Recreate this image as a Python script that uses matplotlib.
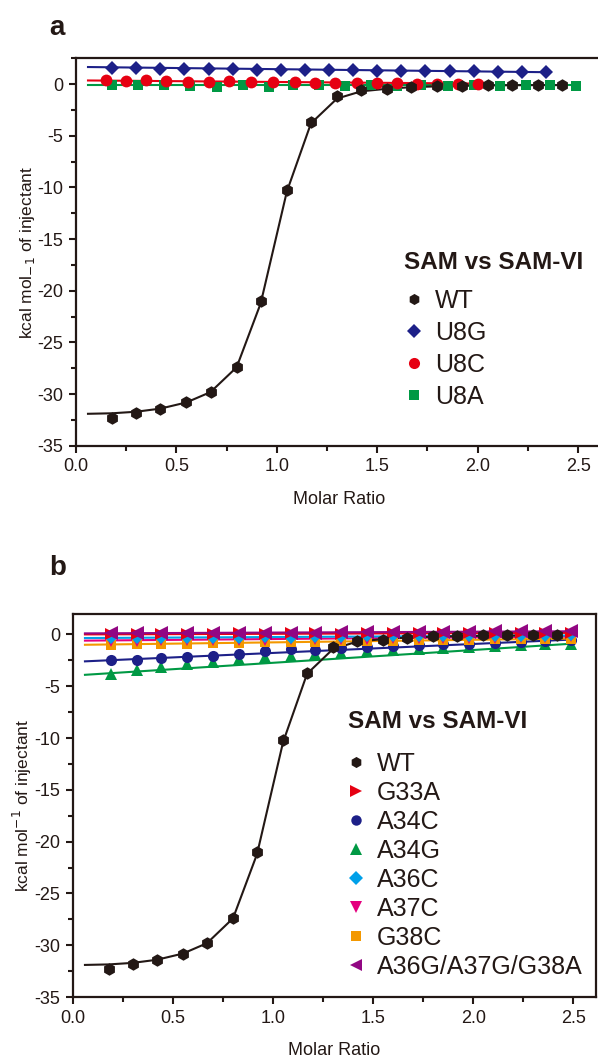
import matplotlib.pyplot as plt
from matplotlib.lines import Line2D
from matplotlib.ticker import MultipleLocator

plt.rcParams["font.family"] = ["Liberation Sans", "DejaVu Sans"]
plt.rcParams["axes.unicode_minus"] = False

# ---- panel a data ----
wt_x = [0.18, 0.30, 0.42, 0.55, 0.67, 0.80, 0.92, 1.05, 1.17, 1.30,
        1.42, 1.55, 1.67, 1.80, 1.92, 2.05, 2.17, 2.30, 2.42]
wt_y = [-32.3, -31.8, -31.4, -30.8, -29.8, -27.4, -21.0, -10.2, -3.7, -1.2,
        -0.6, -0.5, -0.3, -0.2, -0.15, -0.1, -0.1, -0.1, -0.1]
wt_fit_x = [0.06, 0.18, 0.30, 0.42, 0.55, 0.67, 0.80, 0.92, 1.05, 1.17, 1.30,
            1.42, 1.55, 1.67, 1.80, 1.92, 2.05, 2.17, 2.30, 2.42]
wt_fit_y = [-31.9, -31.85, -31.7, -31.4, -30.8, -29.8, -27.4, -21.2, -10.4, -3.8, -1.4,
            -0.7, -0.45, -0.3, -0.22, -0.17, -0.13, -0.11, -0.1, -0.1]

u8g_x = [0.18, 0.30, 0.42, 0.54, 0.66, 0.78, 0.90, 1.02, 1.14, 1.26,
         1.38, 1.50, 1.62, 1.74, 1.86, 1.98, 2.10, 2.22, 2.34]
u8g_y = [1.55, 1.55, 1.5, 1.5, 1.45, 1.45, 1.4, 1.4, 1.4, 1.35,
         1.35, 1.3, 1.3, 1.3, 1.25, 1.25, 1.2, 1.2, 1.15]
u8g_fit_x = [0.06, 2.34]
u8g_fit_y = [1.65, 1.15]

u8c_x = [0.15, 0.25, 0.35, 0.45, 0.56, 0.66, 0.76, 0.87, 0.98, 1.09,
         1.19, 1.29, 1.40, 1.50, 1.60, 1.70, 1.80, 1.90, 2.00]
u8c_y = [0.4, 0.3, 0.35, 0.3, 0.25, 0.25, 0.3, 0.25, 0.2, 0.2,
         0.15, 0.15, 0.1, 0.1, 0.1, 0.05, 0.05, 0.0, 0.0]
u8c_fit_x = [0.06, 2.00]
u8c_fit_y = [0.35, 0.05]

u8a_x = [0.18, 0.31, 0.44, 0.57, 0.70, 0.83, 0.96, 1.08, 1.21, 1.34,
         1.47, 1.60, 1.72, 1.85, 1.98, 2.11, 2.24, 2.36, 2.49]
u8a_y = [-0.1, -0.1, -0.05, -0.15, -0.25, -0.1, -0.3, -0.05, -0.1, -0.2,
         -0.1, -0.15, -0.1, -0.15, -0.1, -0.15, -0.1, -0.1, -0.15]
u8a_fit_x = [0.06, 2.49]
u8a_fit_y = [-0.1, -0.1]

# ---- panel b data ----
mut_x = [0.19, 0.32, 0.44, 0.57, 0.70, 0.83, 0.96, 1.09, 1.21, 1.34,
         1.47, 1.60, 1.73, 1.85, 1.98, 2.11, 2.24, 2.36, 2.49]
g33a_y = [0.0, 0.0, 0.05, 0.0, 0.05, 0.1, 0.05, 0.1, 0.1, 0.05,
          0.1, 0.1, 0.1, 0.15, 0.1, 0.15, 0.1, 0.15, 0.15]
a34c_y = [-2.5, -2.5, -2.3, -2.2, -2.1, -1.9, -1.6, -1.4, -1.5, -1.3,
          -1.2, -1.1, -1.0, -0.9, -0.9, -0.8, -0.7, -0.6, -0.5]
a34g_y = [-3.8, -3.4, -3.1, -2.9, -2.7, -2.4, -2.2, -2.1, -1.9, -1.8,
          -1.6, -1.5, -1.4, -1.3, -1.2, -1.1, -1.0, -0.95, -0.9]
a36c_y = [-0.3, -0.3, -0.3, -0.3, -0.3, -0.3, -0.25, -0.3, -0.25, -0.25,
          -0.2, -0.2, -0.2, -0.2, -0.15, -0.15, -0.15, -0.15, -0.1]
a37c_y = [-0.6, -0.6, -0.55, -0.55, -0.5, -0.5, -0.5, -0.45, -0.45, -0.4,
          -0.4, -0.35, -0.35, -0.3, -0.3, -0.3, -0.25, -0.25, -0.2]
g38c_y = [-1.0, -0.95, -0.9, -0.9, -0.85, -0.8, -0.75, -0.7, -0.7, -0.65,
          -0.6, -0.6, -0.55, -0.5, -0.5, -0.45, -0.45, -0.4, -0.4]
triple_y = [0.1, 0.15, 0.1, 0.15, 0.1, 0.1, 0.15, 0.15, 0.15, 0.2,
            0.2, 0.2, 0.25, 0.25, 0.25, 0.3, 0.3, 0.3, 0.3]
g33a_fit = [0.0, 0.15]
a34c_fit = [-2.6, -0.5]
a34g_fit = [-3.9, -0.9]
a36c_fit = [-0.35, -0.1]
a37c_fit = [-0.6, -0.2]
g38c_fit = [-1.0, -0.4]
triple_fit = [0.1, 0.3]
fit_x_b = [0.06, 2.49]

BLACK = "#231815"
NAVY = "#1d2088"
RED = "#e60012"
GREEN = "#009944"
CYAN = "#00a0e9"
MAGENTA = "#e4007f"
ORANGE = "#f39800"
PURPLE = "#920783"

fig = plt.figure(figsize=(5.98, 10.59), dpi=100)


def style_axes(ax, ylab):
    ax.set_ylim(-35, 2.5)
    ax.xaxis.set_major_locator(MultipleLocator(0.5))
    ax.xaxis.set_minor_locator(MultipleLocator(0.25))
    ax.yaxis.set_major_locator(MultipleLocator(5))
    ax.yaxis.set_minor_locator(MultipleLocator(2.5))
    ax.xaxis.set_major_formatter(plt.FormatStrFormatter("%.1f"))
    ax.tick_params(which="major", direction="out", length=5, width=1.5,
                   labelsize=13, colors=BLACK, labelcolor=BLACK, pad=4)
    ax.tick_params(which="minor", direction="out", length=3.5, width=1.5, colors=BLACK)
    ax.tick_params(top=False, right=False, which="both")
    for s in ax.spines.values():
        s.set_linewidth(1.6)
        s.set_color(BLACK)
    ax.set_xlabel("Molar Ratio", fontsize=13, color=BLACK, labelpad=11)
    ax.set_ylabel(ylab, fontsize=12.5, color=BLACK, labelpad=0)


def series(ax, x, y, fx, fy, color, marker, ms, label, lms):
    ax.plot(fx, fy, color=color, lw=1.5, zorder=2)
    ax.plot(x, y, linestyle="none", marker=marker, color=color, ms=ms,
            markeredgewidth=0, zorder=3)
    return Line2D([], [], linestyle="none", marker=marker, color=color,
                  ms=lms, markeredgewidth=0, label=label)


def legend(ax, handles, title_xy, anchor, spacing, hlen, hpad):
    ax.text(title_xy[0], title_xy[1], "SAM vs SAM-VI", transform=ax.transAxes,
            fontsize=17.5, fontweight="bold", color=BLACK, ha="left", va="center")
    leg = ax.legend(handles=handles, loc="upper left", bbox_to_anchor=anchor,
                    frameon=False, fontsize=18, labelspacing=spacing,
                    borderpad=0, borderaxespad=0,
                    handletextpad=hpad, handlelength=hlen)
    for t in leg.get_texts():
        t.set_color(BLACK)
    return leg


# ---- panel a ----
ax1 = fig.add_axes([0.127, 0.579, 0.880, 0.366])
ax1.set_xlim(0, 2.62)
style_axes(ax1, r"kcal mol$_{-1}$ of injectant")
h_u8a = series(ax1, u8a_x, u8a_y, u8a_fit_x, u8a_fit_y, GREEN, "s", 7.5, "U8A", 7)
h_u8c = series(ax1, u8c_x, u8c_y, u8c_fit_x, u8c_fit_y, RED, "o", 8.5, "U8C", 8)
h_u8g = series(ax1, u8g_x, u8g_y, u8g_fit_x, u8g_fit_y, NAVY, "D", 7, "U8G", 7)
h_wt = series(ax1, wt_x, wt_y, wt_fit_x, wt_fit_y, BLACK, "h", 9, "WT", 8)
legend(ax1, [h_wt, h_u8g, h_u8c, h_u8a], (0.623, 0.474), (0.623, 0.405),
       0.32, 0.85, 0.4)
fig.text(0.082, 0.967, "a", fontsize=20, fontweight="bold", color=BLACK,
         ha="left", va="baseline")

# ---- panel b ----
ax2 = fig.add_axes([0.122, 0.0585, 0.875, 0.362])
ax2.set_xlim(0, 2.615)
style_axes(ax2, r"kcal mol$^{-1}$ of injectant")
ax2.set_ylim(-35, 2)
hb_a34g = series(ax2, mut_x, a34g_y, fit_x_b, a34g_fit, GREEN, "^", 9, "A34G", 8.5)
hb_a34c = series(ax2, mut_x, a34c_y, fit_x_b, a34c_fit, NAVY, "o", 8, "A34C", 7.5)
hb_g38c = series(ax2, mut_x, g38c_y, fit_x_b, g38c_fit, ORANGE, "s", 7, "G38C", 7)
hb_a37c = series(ax2, mut_x, a37c_y, fit_x_b, a37c_fit, MAGENTA, "v", 9, "A37C", 8.5)
hb_a36c = series(ax2, mut_x, a36c_y, fit_x_b, a36c_fit, CYAN, "D", 6.5, "A36C", 7.5)
hb_g33a = series(ax2, mut_x, g33a_y, fit_x_b, g33a_fit, RED, ">", 9, "G33A", 9)
hb_trip = series(ax2, mut_x, triple_y, fit_x_b, triple_fit, PURPLE, "<", 10,
                 "A36G/A37G/G38A", 9)
hb_wt = series(ax2, wt_x, wt_y, wt_fit_x, wt_fit_y, BLACK, "h", 9, "WT", 8)
legend(ax2, [hb_wt, hb_g33a, hb_a34c, hb_a34g, hb_a36c, hb_a37c, hb_g38c, hb_trip],
       (0.526, 0.718), (0.526, 0.640), 0.2, 0.6, 0.55)
fig.text(0.082, 0.457, "b", fontsize=20, fontweight="bold", color=BLACK,
         ha="left", va="baseline")

fig.savefig("out.png", dpi=100)
